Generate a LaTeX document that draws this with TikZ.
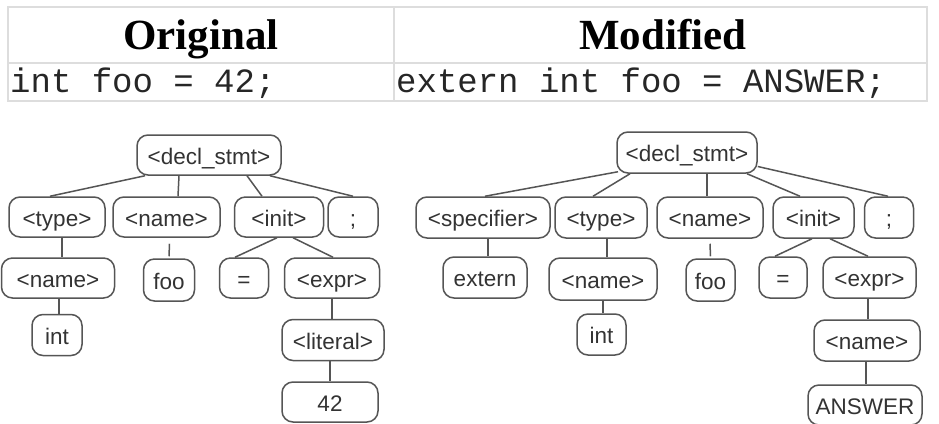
\documentclass[tikz,border=0pt]{standalone}
\usepackage{fontspec}
\setmainfont{Liberation Sans}
\newfontfamily\serifb{Liberation Serif}
\newfontfamily\monof{Liberation Mono}
\definecolor{edge}{HTML}{555555}
\definecolor{tline}{HTML}{DDDDDD}
\definecolor{txt}{HTML}{333333}
\tikzset{
  box/.style={draw=edge, line width=1.5pt, rounded corners=11pt, minimum height=40pt,
    inner sep=0pt, text height=18pt, text depth=0pt, font=\fontsize{22.5}{24}\selectfont, text=txt},
  conn/.style={draw=edge, line width=1.5pt},
  tablerule/.style={draw=tline, line width=1.5pt},
  headtext/.style={font=\serifb\bfseries\fontsize{43}{46}\selectfont, anchor=base, inner sep=0pt},
  codetext/.style={font=\monof\fontsize{34}{36}\selectfont, anchor=base west, inner sep=0pt, text=black!85},
}
\begin{document}
\begin{tikzpicture}[x=1pt,y=-1pt]
\useasboundingbox[fill=white] (0,0) rectangle (939,423);
% table
\draw[tablerule] (8,7) rectangle (927,101);
\draw[tablerule] (8,63) -- (927,63);
\draw[tablerule] (394,7) -- (394,101);
\node[headtext] (hO) at (201,49.5) {Original};
\node[headtext] (hM) at (663,49.5) {Modified};
\node[codetext] (cO) at (10,92) {int foo = 42;};
\node[codetext] (cM) at (396,92) {extern int foo = ANSWER;};
% left tree
\node[box, minimum width=144pt] (dA) at (209,155) {<decl\_stmt>};
\node[box, minimum width=96pt] (tA) at (57,217) {<type>};
\node[box, minimum width=107pt] (nA) at (166.5,217) {<name>};
\node[box, minimum width=89pt] (iA) at (279,217) {<init>};
\node[box, minimum width=50pt] (sA) at (353,217) {;};
\node[box, minimum width=113pt] (nmA) at (58,278) {<name>};
\node[box, minimum width=51pt, minimum height=42pt] (fA) at (169,280) {foo};
\node[box, minimum width=49pt] (eA) at (244,278) {=};
\node[box, minimum width=95pt] (xA) at (332,278) {<expr>};
\node[box, minimum width=50pt, minimum height=41pt] (intA) at (57,335) {int};
\node[box, minimum width=102pt, minimum height=41pt] (lA) at (333,340) {<literal>};
\node[box, minimum width=96pt] (vA) at (330,402) {42};
\draw[conn] ([xshift=-64pt]dA.south) -- ([xshift=-7pt]tA.north);
\draw[conn] ([xshift=-30pt]dA.south) -- ([xshift=11.5pt]nA.north);
\draw[conn] ([xshift=38pt]dA.south) -- ([xshift=-17pt]iA.north);
\draw[conn] ([xshift=61pt]dA.south) -- (sA.north);
\draw[conn] ([xshift=5pt]tA.south) -- ([xshift=4pt]nmA.north);
\draw[conn] ([xshift=3pt,yshift=-6pt]nA.south) -- ([xshift=0pt,yshift=2pt]fA.north);
\draw[conn] ([xshift=-2pt]iA.south) -- ([xshift=-9pt]eA.north);
\draw[conn] ([xshift=14pt]iA.south) -- ([xshift=1pt]xA.north);
\draw[conn] ([xshift=1pt]nmA.south) -- ([xshift=2pt]intA.north);
\draw[conn] (xA.south) -- ([xshift=-1pt]lA.north);
\draw[conn] ([xshift=-3pt]lA.south) -- (vA.north);
% right tree
\node[box, minimum width=140pt, minimum height=41pt] (dB) at (687,152.5) {<decl\_stmt>};
\node[box, minimum width=134pt, minimum height=41pt] (spB) at (483,217.5) {<specifier>};
\node[box, minimum width=92pt, minimum height=41pt] (tyB) at (601,217.5) {<type>};
\node[box, minimum width=106pt, minimum height=41pt] (nB) at (710,217.5) {<name>};
\node[box, minimum width=81pt, minimum height=41pt] (iB) at (813.5,217.5) {<init>};
\node[box, minimum width=49pt, minimum height=41pt] (sB) at (889,217.5) {;};
\node[box, minimum width=84pt, minimum height=41pt] (exB) at (485,277.5) {extern};
\node[box, minimum width=108pt, minimum height=42pt] (nm2B) at (603,279) {<name>};
\node[box, minimum width=49pt, minimum height=42pt] (fB) at (710.5,280) {foo};
\node[box, minimum width=48pt, minimum height=41pt] (eB) at (783,277.5) {=};
\node[box, minimum width=93pt, minimum height=41pt] (xB) at (869.5,277.5) {<expr>};
\node[box, minimum width=49pt, minimum height=41pt] (intB) at (601.5,334.5) {int};
\node[box, minimum width=106pt, minimum height=41pt] (nm3B) at (867,340.5) {<name>};
\node[box, minimum width=114pt] (aB) at (865,405) {ANSWER};
\draw[conn] ([xshift=-69pt,yshift=2pt]dB.south) -- ([xshift=2pt]spB.north);
\draw[conn] ([xshift=-57pt]dB.south) -- ([xshift=-8pt]tyB.north);
\draw[conn] ([xshift=20pt]dB.south) -- ([xshift=-3pt]nB.north);
\draw[conn] ([xshift=60pt]dB.south) -- ([xshift=-13.5pt]iB.north);
\draw[conn] ([yshift=-14pt]dB.east) -- ([xshift=-1pt]sB.north);
\draw[conn] ([xshift=5pt]spB.south) -- ([xshift=3pt]exB.north);
\draw[conn] ([xshift=6pt]tyB.south) -- ([xshift=4pt]nm2B.north);
\draw[conn] ([yshift=-5pt]nB.south) -- ([yshift=2pt]fB.north);
\draw[conn] ([xshift=-1.5pt]iB.south) -- ([xshift=-8pt]eB.north);
\draw[conn] ([xshift=16.5pt]iB.south) -- ([xshift=-1.5pt]xB.north);
\draw[conn] (nm2B.south) -- ([xshift=1.5pt]intB.north);
\draw[conn] ([xshift=-1.5pt]xB.south) -- ([xshift=1pt]nm3B.north);
\draw[conn] ([xshift=-1pt]nm3B.south) -- ([xshift=1pt]aB.north);
\end{tikzpicture}
\end{document}
